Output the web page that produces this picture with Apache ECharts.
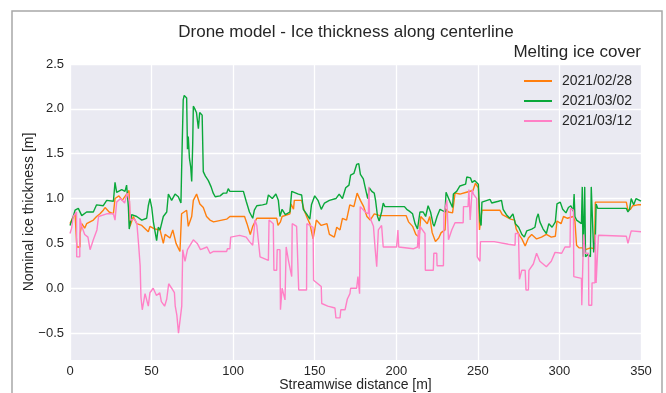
<!DOCTYPE html>
<html>
<head>
<meta charset="utf-8">
<script src="https://cdn.jsdelivr.net/npm/echarts@6/dist/echarts.min.js"></script>
<style>
  html, body { margin: 0; padding: 0; background: #fff; }
  #iceChart { width: 666px; height: 393px; }
</style>
</head>
<body>
<div id="iceChart"></div>
<script>
// legend labels
const seriesNames = ["2021/02/28", "2021/03/02", "2021/03/12"];
const yTicks = [-0.5, 0, 0.5, 1, 1.5, 2, 2.5];

// 2021/02/28 (orange)
const dist0228 = [0, 2, 3.1, 4.1, 4.2, 6.1, 6.2, 7.2, 9, 10.2, 14.3, 16.3, 18.4, 20.4, 21.5, 24, 26.6, 27.6, 30, 32, 34.7, 36.2, 36.8, 38.8, 40.9, 44, 48, 49, 52, 55.2, 57.2, 58.3, 61.3, 63, 65, 67.4, 68.4, 71.5, 72.5, 74.6, 75.6, 77.6, 79.6, 81.7, 83.7, 85.8, 88, 96, 98, 104, 107, 108.5, 110.5, 112, 114.5, 126.7, 127.5, 129, 130, 134.8, 135.5, 137, 137.5, 142, 143.5, 145.5, 147, 149, 150, 151, 154, 157.5, 159, 162, 163.5, 165.5, 167, 169.5, 171.5, 174, 176, 178, 180, 182, 184, 186.5, 190, 206, 207.5, 210, 212, 214, 215, 217, 219, 220.5, 222, 224, 226, 227.5, 229.9, 230.5, 232, 234.5, 236, 239, 243, 247, 248.5, 250.3, 251, 252.5, 263.5, 265, 267, 270, 272.5, 273.5, 275.5, 277, 279, 281, 283, 286, 289, 292, 295, 297.5, 298.5, 301, 302.5, 305, 308.5, 309.5, 310.5, 312, 314, 316, 319, 321.5, 322, 341, 342, 343.5, 345, 348, 350];
const ice0228 = [0.72, 0.80, 0.83, 0.83, 0.46, 0.46, 0.61, 0.72, 0.67, 0.72, 0.76, 0.80, 0.83, 0.87, 0.90, 0.85, 0.83, 1.00, 1.03, 0.98, 1.05, 1.09, 0.69, 0.80, 0.72, 0.70, 0.63, 0.69, 0.66, 0.65, 0.50, 0.60, 0.56, 0.65, 0.50, 0.41, 0.83, 0.87, 0.69, 0.80, 0.98, 1.05, 0.94, 0.90, 0.80, 0.76, 0.74, 0.77, 0.80, 0.80, 0.80, 0.72, 0.60, 0.69, 0.78, 0.78, 0.70, 0.74, 0.80, 0.83, 0.94, 0.88, 0.98, 0.98, 0.87, 0.78, 0.72, 0.55, 0.65, 0.76, 0.70, 0.72, 0.60, 0.57, 0.68, 0.65, 0.78, 0.76, 0.93, 0.91, 1.06, 0.98, 0.91, 0.80, 0.76, 0.83, 0.81, 0.81, 0.74, 0.69, 0.60, 0.57, 0.80, 0.76, 0.72, 0.80, 0.62, 0.52, 0.56, 0.62, 0.65, 0.88, 0.85, 0.84, 1.06, 1.05, 1.07, 1.09, 1.17, 1.12, 0.65, 0.87, 0.87, 0.82, 0.80, 0.77, 0.76, 0.66, 0.59, 0.55, 0.47, 0.56, 0.60, 0.55, 0.57, 0.60, 0.57, 0.58, 0.75, 0.72, 0.80, 0.78, 0.80, 0.75, 0.48, 0.45, 0.45, 0.43, 0.45, 0.44, 0.96, 0.96, 0.87, 0.88, 0.92, 0.93, 0.93];

// 2021/03/02 (green)
const dist0302 = [0, 2, 3.1, 5.1, 7.2, 10.2, 14.3, 16.3, 20.4, 22.5, 26.6, 27.6, 28.6, 31.7, 33.7, 34.7, 35.8, 36.3, 37.8, 40.9, 44, 47, 48, 49, 50.1, 51.1, 53.1, 54.1, 55.2, 57.2, 59.3, 60.3, 62.3, 64.4, 66.4, 68, 68.4, 69.4, 70, 71.5, 72, 72.5, 73.2, 74, 74.6, 75.2, 75.6, 76.5, 77.5, 78.7, 79.5, 81, 81.7, 83, 84.8, 86.5, 87.8, 89, 92, 94, 96, 97, 98, 106.3, 108, 110, 112, 113, 114.5, 118, 120.5, 121.6, 124, 126.2, 127.7, 128.7, 130, 132, 134.8, 135.9, 140, 142, 143, 145, 147, 148, 150, 152, 154, 156, 159, 163, 165, 167, 169, 171, 172, 174, 175.7, 177, 178, 179.8, 181, 182.5, 183.5, 185, 186.5, 187.3, 188.5, 189.5, 191, 192, 193, 205, 206.4, 208, 210, 211.5, 213, 214.5, 216.5, 218, 219.5, 221, 222.5, 223.2, 225, 226.8, 229.9, 230.5, 231.5, 233, 234.5, 235, 237, 239, 242.5, 243.2, 245.5, 246.5, 248, 250.3, 251.3, 252, 252.5, 257.5, 258.5, 262.6, 264.5, 265.5, 267.5, 269.5, 271.5, 273, 275, 277, 278.5, 280, 283, 285, 286, 287, 288, 290, 292, 293.5, 295.5, 297.5, 298.5, 300.5, 302, 304, 305.5, 307, 308.5, 309, 309.5, 310.5, 312, 313.5, 314, 314.5, 315.5, 316, 317.5, 319, 319.5, 320.5, 321, 322, 322.5, 323.5, 341, 342, 343, 344, 345.5, 347, 350];
const ice0302 = [0.70, 0.80, 0.87, 0.89, 0.81, 0.85, 0.85, 0.93, 0.92, 0.98, 0.97, 1.18, 1.07, 1.10, 1.08, 1.15, 0.90, 0.66, 0.82, 0.80, 0.76, 0.78, 0.92, 1.00, 0.90, 0.74, 0.53, 0.68, 0.65, 0.80, 0.85, 1.05, 0.98, 1.05, 1.02, 0.95, 1.30, 2.10, 2.15, 2.12, 1.55, 1.69, 1.45, 1.35, 1.19, 1.60, 2.03, 2.00, 1.96, 1.78, 1.96, 1.93, 1.30, 1.25, 1.20, 1.13, 1.06, 1.02, 1.03, 1.06, 1.06, 1.11, 1.08, 1.08, 0.97, 0.85, 0.78, 0.87, 0.92, 0.93, 0.94, 1.04, 1.00, 1.05, 0.98, 0.80, 0.88, 0.82, 0.85, 1.08, 1.05, 1.04, 0.88, 0.83, 0.77, 0.93, 1.03, 0.98, 0.88, 0.95, 0.98, 1.00, 1.05, 1.00, 1.12, 1.15, 1.26, 1.28, 1.38, 1.39, 1.27, 1.22, 1.12, 1.00, 1.12, 1.08, 1.06, 0.98, 0.80, 0.75, 0.85, 0.95, 0.91, 0.91, 0.88, 0.86, 0.83, 0.72, 0.66, 0.85, 0.85, 0.80, 0.92, 0.85, 0.72, 0.69, 0.80, 0.88, 0.85, 1.07, 1.09, 0.96, 0.90, 1.05, 1.08, 1.14, 1.16, 1.24, 1.23, 1.18, 1.20, 1.16, 0.75, 0.70, 0.96, 0.99, 0.95, 0.97, 0.98, 0.88, 0.82, 0.78, 0.83, 0.72, 0.68, 0.60, 0.57, 0.64, 0.66, 0.68, 0.78, 0.83, 0.74, 0.66, 0.61, 0.72, 0.68, 0.74, 0.94, 0.96, 0.88, 0.84, 0.90, 0.92, 0.86, 1.05, 0.80, 0.76, 0.74, 0.72, 1.13, 0.35, 1.13, 0.35, 0.38, 0.35, 1.13, 1.13, 0.40, 0.55, 0.94, 0.89, 0.89, 0.85, 0.88, 1.00, 0.93, 1.00, 0.97];

// 2021/03/12 (pink)
const dist0312 = [0, 1, 2, 4, 4.1, 6, 6.1, 7.2, 9, 11, 12.3, 13.3, 14.3, 16.5, 17.5, 22.5, 26.6, 27.6, 28.6, 31, 33.5, 35, 36.5, 37, 39.5, 41, 42, 43, 43.5, 44.3, 46, 48, 49, 51, 53, 55, 56, 58, 59.3, 60.5, 62.3, 64, 64.5, 65.5, 66.5, 67.5, 68.5, 69.1, 70.5, 72, 75.6, 78, 80, 84, 85.8, 88, 96, 96.5, 98, 98.5, 104, 108, 110, 112, 113.4, 114.5, 116.5, 121.6, 122, 124.6, 125, 126.7, 127, 128.7, 129, 130, 131.8, 132.5, 134, 135.9, 136.2, 138.9, 140, 140.2, 145, 145.2, 147, 149, 149.3, 154, 154.3, 158, 162.4, 163, 165.5, 166, 168.6, 170, 171.6, 172, 175.7, 176.5, 177.5, 177.9, 181, 182.9, 183.2, 183.6, 186, 187, 188, 189, 191, 192, 200.2, 201, 201.5, 202, 210.4, 213, 213.5, 214, 214.5, 217.6, 217.8, 222.7, 223, 224.8, 225, 228.9, 229.2, 231, 232, 234, 236, 241, 241.2, 244, 244.5, 245.3, 246.5, 247.3, 249.3, 249.6, 251.3, 251.6, 260, 268.7, 272.8, 273, 274.9, 275.5, 276.9, 279, 279.5, 281, 281.3, 284, 286, 288, 292, 295, 297.3, 301.4, 303.4, 306.5, 306.8, 308.6, 308.8, 313.5, 313.7, 314.5, 314.8, 315.7, 317.8, 318, 319.8, 320, 321.8, 322, 322.5, 323.5, 323.9, 341, 342, 344, 350];
const ice0312 = [0.61, 0.67, 0.80, 0.85, 0.35, 0.35, 0.78, 0.69, 0.60, 0.57, 0.43, 0.41, 0.54, 0.65, 0.80, 0.83, 0.83, 0.76, 0.96, 1.00, 0.95, 1.06, 0.97, 0.76, 0.77, 0.72, 0.50, 0.25, -0.10, -0.24, -0.06, -0.20, -0.05, 0.00, -0.08, -0.05, -0.15, -0.20, -0.12, 0.05, 0.00, -0.05, -0.20, -0.30, -0.50, -0.52, -0.20, 0.43, 0.30, 0.43, 0.54, 0.50, 0.43, 0.46, 0.39, 0.41, 0.41, 0.44, 0.44, 0.57, 0.59, 0.57, 0.52, 0.48, 0.76, 0.70, 0.35, 0.31, 0.76, 0.72, 0.20, 0.20, 0.43, 0.43, -0.24, 0.00, -0.13, 0.46, 0.30, 0.13, 0.72, 0.69, 0.70, -0.02, -0.02, 0.72, 0.70, 0.68, 0.09, 0.02, -0.17, -0.20, -0.22, -0.33, -0.33, -0.24, -0.24, -0.12, -0.06, 0.00, 0.00, 0.13, -0.06, 0.91, 0.85, 0.83, 1.13, 0.80, 0.69, 0.45, 0.24, 0.65, 0.70, 0.46, 0.46, 0.65, 0.46, 0.44, 0.44, 0.46, 0.65, 0.44, 0.69, 0.61, 0.20, 0.20, 0.39, 0.39, 0.25, 0.25, 0.83, 0.98, 0.54, 0.65, 0.73, 0.73, 0.91, 0.91, 1.10, 0.76, 1.10, 1.05, 1.00, 0.35, 0.30, 0.52, 0.52, 0.49, 0.48, 0.61, 0.61, 0.10, 0.20, 0.20, -0.02, -0.02, 0.20, 0.27, 0.39, 0.30, 0.24, 0.30, 0.40, 0.39, 0.46, 0.46, 0.89, 0.87, 0.13, 0.11, -0.19, -0.19, 0.60, 0.39, 0.39, -0.19, -0.19, 0.06, 0.06, 0.60, 0.06, 0.06, 0.59, 0.58, 0.50, 0.64, 0.63];

const colors = ["#ff7f0e", "#0aa83a", "#ff80c6"];
const fontFamily = "'Liberation Sans', Arial, sans-serif";

function pairs(xs, ys) {
  return xs.map((x, i) => [x, ys[i]]);
}

let chartDom = document.getElementById("iceChart");
let myChart = echarts.init(chartDom);

let option = {
  animation: false,
  backgroundColor: "#ffffff",
  textStyle: { fontFamily: fontFamily },
  title: [
    {
      text: "Drone model - Ice thickness along centerline",
      left: 346,
      top: 24,
      padding: 0,
      textAlign: "center",
      textStyle: { fontSize: 17, fontWeight: "normal", color: "#262626", fontFamily: fontFamily },
    },
    {
      text: "Melting ice cover",
      right: 25,
      top: 44,
      padding: 0,
      textStyle: { fontSize: 17, fontWeight: "normal", color: "#262626", fontFamily: fontFamily },
    },
  ],
  graphic: [
    {
      type: "rect",
      shape: { x: 12, y: 11, width: 650, height: 400 },
      style: { fill: "none", stroke: "#a8a8a8", lineWidth: 1.5 },
      silent: true,
      z: 100,
    },
  ],
  legend: {
    data: seriesNames,
    orient: "vertical",
    left: 519,
    top: 69,
    icon: "rect",
    itemWidth: 28,
    itemHeight: 2,
    itemGap: 6,
    textStyle: { fontSize: 14, color: "#262626", fontFamily: fontFamily, padding: [0, 0, 0, 5] },
  },
  grid: {
    left: 70,
    right: 25,
    top: 64,
    bottom: 33,
    outerBoundsMode: "none",
    show: true,
    backgroundColor: "#eaeaf2",
    borderWidth: 0,
  },
  xAxis: {
    type: "value",
    min: 0,
    max: 350,
    interval: 50,
    name: "Streamwise distance [m]",
    nameLocation: "middle",
    nameGap: 18,
    nameMoveOverlap: false,
    nameTextStyle: { fontSize: 14, color: "#262626" },
    axisLine: { show: false },
    axisTick: { show: false },
    axisLabel: { fontSize: 13, color: "#262626", margin: 5 },
    splitLine: { lineStyle: { color: "#ffffff", width: 1.3 } },
  },
  yAxis: {
    type: "value",
    min: -0.8,
    max: 2.5,
    name: "Nominal ice thickness [m]",
    nameLocation: "middle",
    nameGap: 34,
    nameMoveOverlap: false,
    nameTextStyle: { fontSize: 14, color: "#262626" },
    axisLine: { show: false },
    axisTick: { show: false, customValues: yTicks },
    axisLabel: {
      fontSize: 13,
      color: "#262626",
      margin: 6,
      customValues: yTicks,
      formatter: function (v) {
        let s = Math.abs(v).toFixed(1);
        return v < 0 ? "\u2212" + s : s;
      },
    },
    splitLine: { lineStyle: { color: "#ffffff", width: 1.3 } },
  },
  series: [
    {
      name: seriesNames[0],
      type: "line",
      data: pairs(dist0228, ice0228),
      showSymbol: false,
      color: colors[0],
      lineStyle: { width: 1.4 },
    },
    {
      name: seriesNames[1],
      type: "line",
      data: pairs(dist0302, ice0302),
      showSymbol: false,
      color: colors[1],
      lineStyle: { width: 1.4 },
    },
    {
      name: seriesNames[2],
      type: "line",
      data: pairs(dist0312, ice0312),
      showSymbol: false,
      color: colors[2],
      lineStyle: { width: 1.4 },
    },
  ],
};
myChart.setOption(option);
</script>
</body>
</html>
